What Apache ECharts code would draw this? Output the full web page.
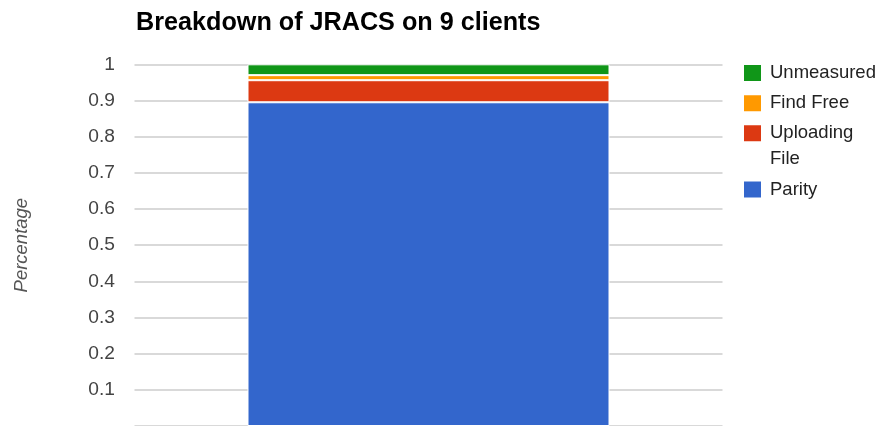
<!DOCTYPE html>
<html>
<head>
<meta charset="utf-8">
<style>
  html, body { margin: 0; padding: 0; background: #fff; }
  #chart { width: 883px; height: 426px; }
</style>
<script src="https://cdn.jsdelivr.net/npm/echarts@6/dist/echarts.min.js"></script>
</head>
<body>
<div id="chart"></div>
<script>
// Share of JRACS time per phase, 9 clients (stacked, bottom to top)
const categories = ['9 clients'];
const parity = [0.895];
const uploadingFile = [0.061];
const findFree = [0.014];
const unmeasured = [0.030];
const yTicks = [0.1, 0.2, 0.3, 0.4, 0.5, 0.6, 0.7, 0.8, 0.9, 1];

const FONT = '"Liberation Sans", Arial, sans-serif';
const colors = {
  'Parity': '#3366cc',
  'Uploading File': '#dc3912',
  'Find Free': '#ff9900',
  'Unmeasured': '#109618'
};

function bar(name, data) {
  return {
    name: name,
    type: 'bar',
    stack: 'total',
    data: data,
    barWidth: 362,
    itemStyle: { color: colors[name], borderColor: '#fff', borderWidth: 1 },
    emphasis: { disabled: true }
  };
}

// One legend per entry so each row sits at its own height; the two-line
// entry gets a blank leading line so its first line lines up with the swatch.
function legendItem(name, top) {
  return {
    orient: 'vertical',
    left: 742,
    top: top,
    padding: 0,
    itemWidth: 19,
    itemHeight: 18,
    icon: 'rect',
    data: [name],
    formatter: n => n === 'Uploading File' ? ' \nUploading\nFile' : n,
    textStyle: {
      fontFamily: FONT,
      fontSize: 18.5,
      color: '#222',
      lineHeight: 26,
      padding: [0, 0, 0, 3]
    }
  };
}

const chart = echarts.init(document.getElementById('chart'), null, { renderer: 'canvas' });
chart.setOption({
  backgroundColor: '#fff',
  animation: false,
  title: {
    text: 'Breakdown of JRACS on 9 clients',
    left: 136,
    top: 10.5,
    padding: 0,
    textStyle: { fontFamily: FONT, fontSize: 25.2, fontWeight: 'bold', color: '#000' }
  },
  legend: [
    legendItem('Unmeasured', 60),
    legendItem('Find Free', 90.3),
    legendItem('Uploading File', 94.3),
    legendItem('Parity', 176.5)
  ],
  grid: { left: 134.5, right: 160.5, top: 64.3, bottom: -0.5, containLabel: false },
  xAxis: {
    type: 'category',
    data: categories,
    axisLine: { show: false },
    axisTick: { show: false },
    axisLabel: { show: false }
  },
  yAxis: {
    type: 'value',
    min: 0,
    max: 1,
    interval: 0.1,
    name: 'Percentage',
    nameLocation: 'middle',
    nameGap: 103,
    nameTextStyle: { fontFamily: FONT, fontSize: 18.5, fontStyle: 'italic', color: '#555' },
    axisLine: { show: false },
    axisTick: { show: false },
    splitLine: { lineStyle: { color: '#cccccc', width: 1.5 } },
    axisLabel: {
      showMinLabel: false,
      margin: 19.5,
      fontFamily: FONT,
      fontSize: 19.2,
      color: '#444',
      formatter: v => {
        const t = yTicks.find(x => Math.abs(x - v) < 1e-9);
        return t === undefined ? '' : String(t);
      }
    }
  },
  series: [
    bar('Parity', parity),
    bar('Uploading File', uploadingFile),
    bar('Find Free', findFree),
    bar('Unmeasured', unmeasured)
  ]
});
</script>
</body>
</html>
